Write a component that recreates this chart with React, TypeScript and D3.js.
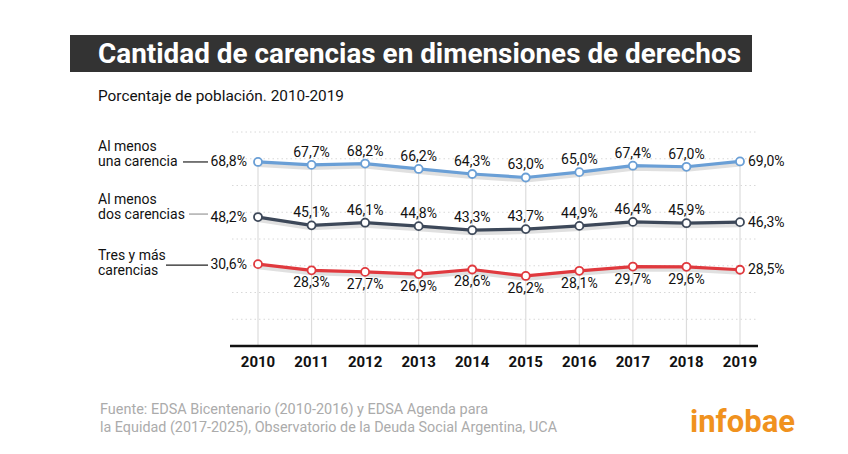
import React from "react";
import * as d3 from "d3";

const years = [2010, 2011, 2012, 2013, 2014, 2015, 2016, 2017, 2018, 2019];
const unaCarencia = [68.8, 67.7, 68.2, 66.2, 64.3, 63.0, 65.0, 67.4, 67.0, 69.0];
const dosCarencias = [48.2, 45.1, 46.1, 44.8, 43.3, 43.7, 44.9, 46.4, 45.9, 46.3];
const tresCarencias = [30.6, 28.3, 27.7, 26.9, 28.6, 26.2, 28.1, 29.7, 29.6, 28.5];
const gridTicks = [10, 20, 30, 40, 50, 60, 70, 80];

const seriesNames = [["Al menos", "una carencia"], ["Al menos", "dos carencias"], ["Tres y más", "carencias"]];
const seriesColors = ["#6a9fd6", "#3d4859", "#e0393e"];

const fmt = (v: number) => v.toFixed(1).replace(".", ",") + "%";

export default function App() {
  const W = 848, H = 454;
  const x = d3.scaleLinear().domain([2010, 2019]).range([258, 740]);
  const y = d3.scaleLinear().domain([0, 80]).range([346, 132]);
  const line = d3.line<number>().x((_, i) => x(years[i])).y((d) => y(d));
  const series = [unaCarencia, dosCarencias, tresCarencias];
  const font = "Roboto, 'Open Sans', sans-serif";

  const legendLines = [
    { x1: 183, x2: 208, stroke: "#222", dy: 0 },
    { x1: 189, x2: 208, stroke: "#999", dy: -3 },
    { x1: 166, x2: 208, stroke: "#222", dy: 1 },
  ];
  const legendOffsets = [[-10.5, 4], [-13.5, 1.5], [-4, 11]];

  return (
    <svg width={W} height={H} style={{ position: "absolute", left: 0, top: 0, background: "#fff" }} fontFamily={font}>
      <rect x={0} y={0} width={W} height={H} fill="#fff" />
      {/* Title */}
      <rect x={70} y={35} width={682} height={37} fill="#333" />
      <text x={98} y={63} fill="#fff" fontSize={27} fontWeight={700} textLength={643} lengthAdjust="spacingAndGlyphs">
        Cantidad de carencias en dimensiones de derechos
      </text>
      <text x={98} y={101} fill="#111" fontSize={15.5} textLength={246} lengthAdjust="spacingAndGlyphs">
        Porcentaje de población. 2010-2019
      </text>

      {/* Horizontal dotted gridlines */}
      {gridTicks.map((t) => (
        <line key={t} x1={232} x2={758} y1={y(t)} y2={y(t)} stroke="#d8d8d8" strokeWidth={1} strokeDasharray="1.5 3" />
      ))}
      {/* Vertical gridlines */}
      {years.map((yr, i) => (
        <line key={yr} x1={x(yr)} x2={x(yr)} y1={y(unaCarencia[i])} y2={y(0)} stroke="#dcdcdc" strokeWidth={1.2} />
      ))}
      {/* Axis */}
      <line x1={230} x2={758} y1={y(0)} y2={y(0)} stroke="#111" strokeWidth={2.5} />
      {years.map((yr) => (
        <text key={yr} x={x(yr)} y={367} textAnchor="middle" fontSize={15} fontWeight={700} fill="#111">
          {yr}
        </text>
      ))}

      {/* Series */}
      {series.map((s, si) => (
        <g key={si}>
          <path d={line(s) || ""} fill="none" stroke="#bbb" strokeOpacity={0.45} strokeWidth={6} transform="translate(0,2)" strokeLinejoin="round" />
          <path d={line(s) || ""} fill="none" stroke={seriesColors[si]} strokeWidth={3.2} strokeLinejoin="round" />
          {s.map((v, i) => (
            <circle key={i} cx={x(years[i])} cy={y(v)} r={4} fill="#fff" stroke={seriesColors[si]} strokeWidth={1.8} />
          ))}
          {s.map((v, i) => {
            if (i === 0) {
              return (
                <text key={"l" + i} x={247} y={y(v) + 4.5} textAnchor="end" fontSize={14} fill="#111">
                  {fmt(v)}
                </text>
              );
            }
            if (i === s.length - 1) {
              return (
                <text key={"l" + i} x={748} y={y(v) + 4.5} textAnchor="start" fontSize={14} fill="#111">
                  {fmt(v)}
                </text>
              );
            }
            const dy = si === 2 ? 17 : -8;
            return (
              <text key={"l" + i} x={x(years[i])} y={y(v) + dy} textAnchor="middle" fontSize={14} fill="#111">
                {fmt(v)}
              </text>
            );
          })}
          {/* legend */}
          <text x={98} y={y(s[0]) + legendOffsets[si][0]} fontSize={14} fill="#111">
            {seriesNames[si][0]}
          </text>
          <text x={98} y={y(s[0]) + legendOffsets[si][1]} fontSize={14} fill="#111">
            {seriesNames[si][1]}
          </text>
          <line x1={legendLines[si].x1} x2={legendLines[si].x2} y1={y(s[0]) + legendLines[si].dy} y2={y(s[0]) + legendLines[si].dy} stroke={legendLines[si].stroke} strokeWidth={1.2} />
        </g>
      ))}

      {/* Footer */}
      <text x={100} y={414} fontSize={14} fill="#ababab" textLength={388} lengthAdjust="spacingAndGlyphs">
        Fuente: EDSA Bicentenario (2010-2016) y  EDSA Agenda para
      </text>
      <text x={100} y={432} fontSize={14} fill="#ababab" textLength={457} lengthAdjust="spacingAndGlyphs">
        la Equidad (2017-2025), Observatorio de la Deuda Social Argentina, UCA
      </text>
      <text x={690} y={432} fontSize={31} fontWeight={700} fill="#f0921e" textLength={105} lengthAdjust="spacingAndGlyphs">
        infobae
      </text>
    </svg>
  );
}
